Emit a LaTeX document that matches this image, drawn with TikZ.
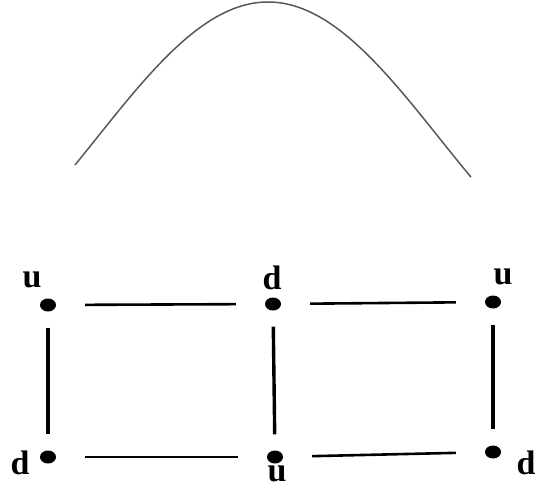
\documentclass[tikz,border=0pt]{standalone}
\usepackage{fontspec}
\setmainfont{Liberation Serif}
\usetikzlibrary{shapes.geometric}
\begin{document}
\begin{tikzpicture}[x=1pt,y=-1pt,
  dot/.style={ellipse,fill=black,inner sep=0pt,minimum width=16pt,minimum height=13pt},
  lab/.style={font=\fontsize{34}{34}\selectfont\bfseries,inner sep=0pt},
  hline/.style={line width=2.6pt,shorten <=29pt,shorten >=29pt},
  vline/.style={line width=3.4pt,shorten <=16pt,shorten >=16pt}]
\useasboundingbox (0,0) rectangle (538,488);
\node[dot] (tl) at (48,305) {};
\node[dot] (tm) at (273,304) {};
\node[dot] (tr) at (493,302) {};
\node[dot] (bl) at (48,457) {};
\node[dot] (bm) at (275,457) {};
\node[dot] (br) at (493,452) {};
\node[lab] (ltl) at (32,280) {u};
\node[lab] (ltm) at (272,278) {d};
\node[lab] (ltr) at (503,277) {u};
\node[lab] (lbl) at (20,463) {d};
\node[lab,anchor=base] (lbm) at (277,481) {u};
\node[lab] (lbr) at (526,463) {d};
\draw[hline] (tl) -- (tm);
\draw[hline] (tm) -- (tr);
\draw[hline] (bl) -- (bm);
\draw[hline] (bm) -- (br);
\draw[vline] (tl) -- (bl);
\draw[vline] (tm) -- (bm);
\draw[vline] (tr) -- (br);
\draw[line width=1.5pt,color=black!65,smooth,samples=80,domain=75:471]
  plot (\x,{2+137*(1-cos(0.523*(\x-268)))});
\end{tikzpicture}
\end{document}
